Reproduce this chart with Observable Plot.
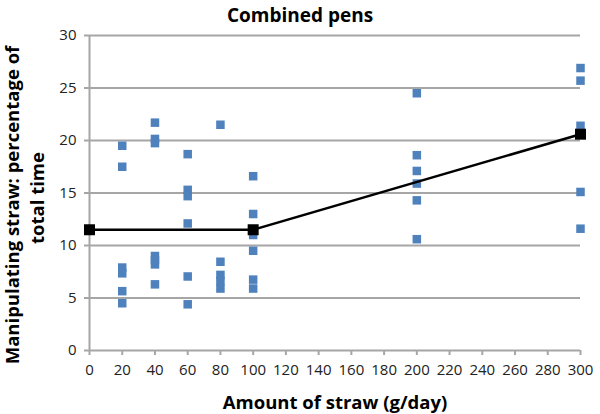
<!DOCTYPE html>
<html>
<head>
<meta charset="utf-8">
<script src="https://cdn.jsdelivr.net/npm/d3@7"></script>
<script src="https://cdn.jsdelivr.net/npm/@observablehq/plot@0.6"></script>
<style>
  html, body { margin: 0; padding: 0; background: #fff; }
  #chart svg { display: block; }
</style>
</head>
<body>
<div id="chart"></div>
<script>
const title = "Combined pens";
const xTitle = "Amount of straw (g/day)";
const yTitle1 = "Manipulating straw: percentage of";
const yTitle2 = "total time";

const xTicks = [0, 20, 40, 60, 80, 100, 120, 140, 160, 180, 200, 220, 240, 260, 280, 300];
const yTicks = [0, 5, 10, 15, 20, 25, 30];

// individual pen observations
const obsX = [
  20, 20, 20, 20, 20, 20,
  40, 40, 40, 40, 40, 40, 40,
  60, 60, 60, 60, 60, 60,
  80, 80, 80, 80, 80,
  100, 100, 100, 100, 100, 100,
  200, 200, 200, 200, 200, 200,
  300, 300, 300, 300, 300
];
const obsY = [
  19.5, 17.5, 7.9, 7.35, 5.65, 4.5,
  21.7, 20.15, 19.75, 9.0, 8.6, 8.2, 6.3,
  18.7, 15.3, 14.7, 12.1, 7.05, 4.4,
  21.5, 8.45, 7.2, 6.6, 5.9,
  16.6, 13.0, 11.0, 9.5, 6.75, 5.9,
  24.5, 18.6, 17.1, 15.9, 14.3, 10.6,
  26.9, 25.7, 21.4, 15.1, 11.6
];

// fitted line
const fitX = [0, 100, 300];
const fitY = [11.5, 11.5, 20.6];

const obs = obsX.map((x, i) => ({x, y: obsY[i]}));
const fit = fitX.map((x, i) => ({x, y: fitY[i]}));

const grid = "#a6a6a6";
const font = "'Open Sans', sans-serif";

const plot = Plot.plot({
  width: 600,
  height: 414,
  marginLeft: 89,
  marginRight: 20,
  marginTop: 35,
  marginBottom: 64,
  style: {fontFamily: font, fontSize: "15px", color: "#222", background: "#fff"},
  x: {domain: [0, 300], ticks: xTicks},
  y: {domain: [0, 30], ticks: yTicks},
  marks: [
    Plot.ruleY(yTicks, {stroke: grid, strokeWidth: 2}),
    Plot.ruleX([0], {stroke: grid, strokeWidth: 2}),
    Plot.axisY(yTicks, {tickSize: 5, tickPadding: 8, stroke: grid, strokeWidth: 2, label: null, fill: "#222", fontSize: 15}),
    Plot.axisX(xTicks, {tickSize: 5, tickPadding: 9, stroke: grid, strokeWidth: 2, label: null, fill: "#222", fontSize: 15}),
    Plot.dot(obs, {x: "x", y: "y", symbol: "square", r: 4.8, fill: "#4f81bd", stroke: null}),
    Plot.line(fit, {x: "x", y: "y", stroke: "#000", strokeWidth: 2.5}),
    Plot.dot(fit, {x: "x", y: "y", symbol: "square", r: 6.2, fill: "#000", stroke: null}),
    Plot.text([title], {frameAnchor: "top", dx: -35, dy: -20, lineAnchor: "middle", fontWeight: "bold", fontSize: 19, fill: "#000"}),
    Plot.text([xTitle], {frameAnchor: "bottom", dy: 53, lineAnchor: "middle", fontWeight: "bold", fontSize: 18.5, fill: "#000"}),
    Plot.text([yTitle1], {frameAnchor: "left", dx: -76, dy: 12, rotate: -90, textAnchor: "middle", lineAnchor: "middle", fontWeight: "bold", fontSize: 18.5, fill: "#000"}),
    Plot.text([yTitle2], {frameAnchor: "left", dx: -51, dy: 5, rotate: -90, textAnchor: "middle", lineAnchor: "middle", fontWeight: "bold", fontSize: 18.5, fill: "#000"})
  ]
});
document.getElementById("chart").appendChild(plot);
</script>
</body>
</html>
